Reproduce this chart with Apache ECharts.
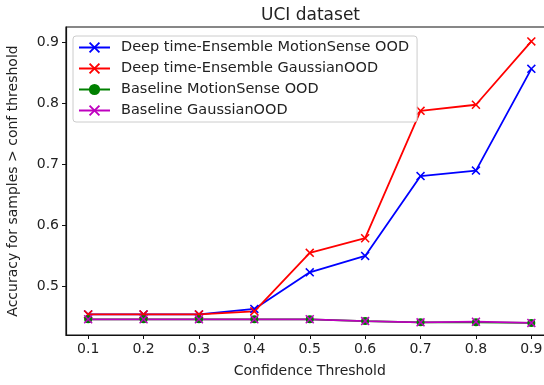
<!DOCTYPE html>
<html>
<head>
<meta charset="utf-8">
<script src="https://cdn.jsdelivr.net/npm/echarts@6/dist/echarts.min.js"></script>
<style>
  html, body { margin: 0; padding: 0; background: #fff; }
  #chart { width: 544px; height: 385px; }
</style>
</head>
<body>
<div id="chart"></div>
<script>
var thresholds = [0.1, 0.2, 0.3, 0.4, 0.5, 0.6, 0.7, 0.8, 0.9];
var deepMotion = [0.454, 0.454, 0.454, 0.463, 0.523, 0.550, 0.681, 0.690, 0.857];
var deepGauss = [0.454, 0.454, 0.454, 0.459, 0.555, 0.579, 0.788, 0.798, 0.902];
var baseMotion = [0.446, 0.446, 0.446, 0.446, 0.446, 0.443, 0.441, 0.441, 0.440];
var baseGauss = [0.446, 0.446, 0.446, 0.446, 0.446, 0.443, 0.441, 0.442, 0.440];
var yTicks = [0.5, 0.6, 0.7, 0.8, 0.9];

var font = 'DejaVu Sans';
var crossPath = 'path://M0,1.2L1.2,0L5,3.8L8.8,0L10,1.2L6.2,5L10,8.8L8.8,10L5,6.2L1.2,10L0,8.8L3.8,5Z';

function pairs(ys) {
  return thresholds.map(function (x, i) { return [x, ys[i]]; });
}

function lineSeries(name, ys, color, symbol, size) {
  return {
    name: name,
    type: 'line',
    data: pairs(ys),
    symbol: symbol,
    symbolSize: size,
    showAllSymbol: true,
    lineStyle: {color: color, width: 1.8},
    itemStyle: {color: color},
    emphasis: {disabled: true},
    animation: false
  };
}

var chart = echarts.init(document.getElementById('chart'));
chart.setOption({
  backgroundColor: '#fff',
  title: {
    text: 'UCI dataset',
    left: 256,
    top: 2,
    textStyle: {fontFamily: font, fontSize: 17, fontWeight: 'normal', color: '#222'}
  },
  grid: {
    left: 66, top: 27, width: 487.5, height: 308,
    outerBoundsMode: 'none',
    show: true, borderColor: '#111', borderWidth: 1.2, backgroundColor: '#fff'
  },
  legend: {
    orient: 'vertical',
    left: 73, top: 36,
    padding: [4, 8, 4, 5],
    itemWidth: 31, itemHeight: 14, itemGap: 6,
    borderColor: '#ccc', borderWidth: 1, borderRadius: 3,
    backgroundColor: 'rgba(255,255,255,0.85)',
    textStyle: {fontFamily: font, fontSize: 14.5, color: '#222', padding: [0, 0, 0, 6]},
    data: ['Deep time-Ensemble MotionSense OOD', 'Deep time-Ensemble GaussianOOD',
      'Baseline MotionSense OOD', 'Baseline GaussianOOD']
  },
  xAxis: {
    type: 'value',
    min: 0.06, max: 0.94,
    name: 'Confidence Threshold',
    nameLocation: 'middle',
    nameGap: 29,
    nameTextStyle: {fontFamily: font, fontSize: 14, color: '#222'},
    axisLine: {lineStyle: {color: '#111', width: 1.2}},
    axisTick: {show: true, length: 4, inside: false, customValues: thresholds, lineStyle: {color: '#111'}},
    axisLabel: {customValues: thresholds, fontFamily: font, fontSize: 14, color: '#222', margin: 7,
      formatter: function (v) { return v.toFixed(1); }},
    splitLine: {show: false}
  },
  yAxis: {
    type: 'value',
    min: 0.4202, max: 0.9256,
    name: 'Accuracy for samples > conf threshold',
    nameLocation: 'middle',
    nameGap: 46,
    nameTextStyle: {fontFamily: font, fontSize: 14, color: '#222'},
    axisLine: {show: true, lineStyle: {color: '#111', width: 1.2}},
    axisTick: {show: true, length: 4, inside: false, customValues: yTicks, lineStyle: {color: '#111'}},
    axisLabel: {customValues: yTicks, fontFamily: font, fontSize: 14, color: '#222', margin: 7,
      formatter: function (v) { return v.toFixed(1); }},
    splitLine: {show: false}
  },
  series: [
    lineSeries('Deep time-Ensemble MotionSense OOD', deepMotion, '#0000ff', crossPath, 9),
    lineSeries('Deep time-Ensemble GaussianOOD', deepGauss, '#ff0000', crossPath, 9),
    lineSeries('Baseline MotionSense OOD', baseMotion, '#008000', 'circle', 8),
    lineSeries('Baseline GaussianOOD', baseGauss, '#bf00bf', crossPath, 9)
  ]
});
</script>
</body>
</html>
